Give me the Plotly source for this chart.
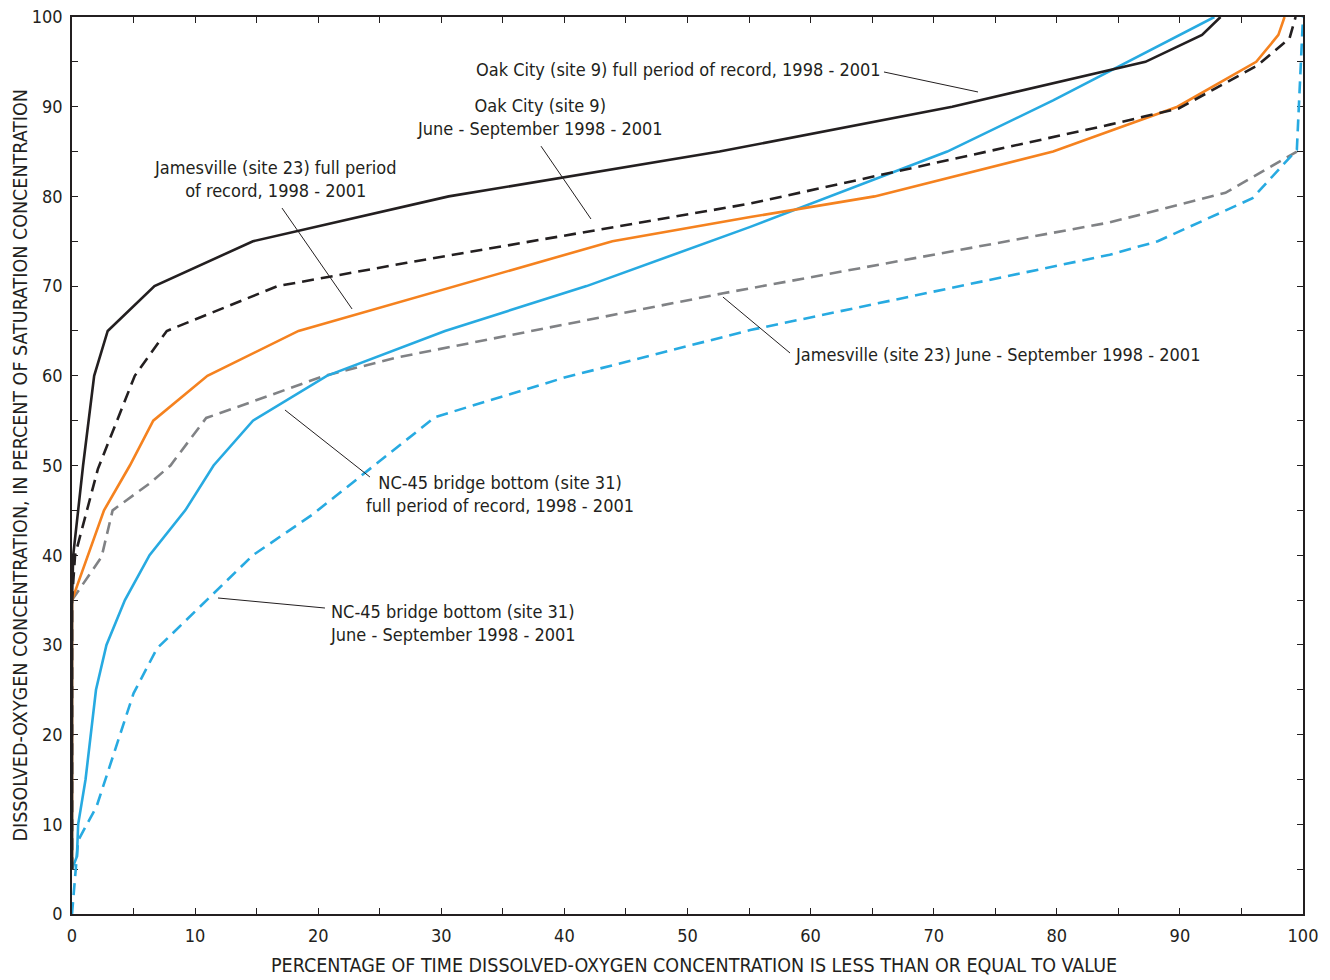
import plotly.graph_objects as go

# ---- data ----
oak_full_x = [0, 0, 0.1, 0.9, 1.8, 2.9, 6.7, 14.7, 30.6, 52.6, 71.5, 87.2, 91.8, 93.3]
oak_full_y = [5, 35, 40, 50, 60, 65, 70, 75, 80, 85, 90, 95, 98, 100]

oak_jun_x = [0, 0, 0.25, 2.1, 5.1, 7.7, 16.7, 27.2, 55.1, 84.3, 89.9, 96.3, 98.9, 99.4]
oak_jun_y = [5, 35, 40, 49.6, 60, 65, 70, 72.6, 79.2, 88, 89.8, 94.6, 97.6, 100]

jam_full_x = [0, 0, 2.6, 4.7, 6.6, 11, 18.4, 26.6, 43.9, 55.1, 65.2, 79.7, 89.8, 96.2, 98, 98.5]
jam_full_y = [5, 35, 45, 50, 55, 60, 65, 68.2, 75, 77.7, 80, 85, 90, 95, 98, 100]

jam_jun_x = [0, 2.4, 3.3, 6.3, 8, 10.9, 13.4, 20.5, 26.6, 52.9, 84.3, 93.7, 99.5]
jam_jun_y = [35, 39.8, 45, 48, 50, 55.3, 56.5, 60, 62.1, 69.2, 77.1, 80.4, 85]

nc_full_x = [0, 0.4, 0.5, 1.1, 1.95, 2.8, 4.3, 6.3, 9.2, 11.5, 14.7, 20.7, 30.3, 41.8, 55.1, 71.1, 79.7, 92.8]
nc_full_y = [5, 6.4, 10, 15, 25, 30, 35, 40, 45, 50, 55, 60, 65, 70, 76.6, 85, 90.7, 100]

nc_jun_x = [0, 0.5, 2, 5, 6.9, 10.7, 14.7, 19.5, 29.5, 40, 55.1, 84.3, 88.2, 95.9, 99.5, 100]
nc_jun_y = [0, 8.2, 12, 24.6, 29.6, 34.7, 40, 44.5, 55.4, 59.8, 65.1, 73.5, 75, 79.8, 85.2, 100]

tick_vals = list(range(0, 101, 5))
tick_text = [str(v) if v % 10 == 0 else "" for v in tick_vals]

# labels: (text, x, y, xanchor, align)
labels = [
    ("Oak City (site 9) full period of record, 1998 - 2001", 32.66, 94.2, "left", "left"),
    ("Oak City (site 9)<br>June - September 1998 - 2001", 38.0, 88.8, "center", "center"),
    ("Jamesville (site 23) full period<br>of record, 1998 - 2001", 16.5, 81.94, "center", "center"),
    ("Jamesville (site 23) June - September 1998 - 2001", 58.57, 62.32, "left", "left"),
    ("NC-45 bridge bottom (site 31)<br>full period of record, 1998 - 2001", 34.77, 46.82, "center", "center"),
    ("NC-45 bridge bottom (site 31)<br>June - September 1998 - 2001", 20.8, 32.44, "left", "left"),
]
# leader lines: (x0, y0, x1, y1)
leaders = [
    (65.96, 93.87, 73.6, 91.64),
    (38.1, 85.6, 42.16, 77.48),
    (17.06, 78.7, 22.75, 67.45),
    (52.88, 68.78, 58.33, 62.54),
    (17.3, 56.19, 24.2, 48.72),
    (11.86, 35.23, 20.55, 34.11),
]

BLACK = "#231f20"
ORANGE = "#f5821f"
BLUE = "#27aae1"
GRAY = "#808285"
DASH = "12px,7px"
FONT = "DejaVu Sans Condensed, Liberation Sans Narrow, Arial Narrow, sans-serif"

series = [
    (jam_jun_x, jam_jun_y, GRAY, DASH),
    (nc_jun_x, nc_jun_y, BLUE, DASH),
    (nc_full_x, nc_full_y, BLUE, "solid"),
    (jam_full_x, jam_full_y, ORANGE, "solid"),
    (oak_jun_x, oak_jun_y, BLACK, DASH),
    (oak_full_x, oak_full_y, BLACK, "solid"),
]

fig = go.Figure()
for xs, ys, col, dash in series:
    fig.add_trace(go.Scatter(x=xs, y=ys, mode="lines", cliponaxis=False,
                             line=dict(color=col, width=2.6, dash=dash),
                             hoverinfo="skip", showlegend=False))

for (t, x, y, xa, al) in labels:
    fig.add_annotation(x=x, y=y, text=t, showarrow=False, xanchor=xa, align=al,
                       yanchor="middle", font=dict(family=FONT, size=18, color=BLACK))
for (x0, y0, x1, y1) in leaders:
    fig.add_shape(type="line", x0=x0, y0=y0, x1=x1, y1=y1,
                  line=dict(color=BLACK, width=1))

fig.add_annotation(xref="paper", yref="paper", x=-0.0422, y=0.5,
                   text="DISSOLVED-OXYGEN CONCENTRATION, IN PERCENT OF SATURATION CONCENTRATION",
                   textangle=-90, showarrow=False, xanchor="center", yanchor="middle",
                   font=dict(family=FONT, size=19.5, color=BLACK))
fig.add_annotation(xref="paper", yref="paper", x=0.505, y=-0.0575,
                   text="PERCENTAGE OF TIME DISSOLVED-OXYGEN CONCENTRATION IS LESS THAN OR EQUAL TO VALUE",
                   showarrow=False, xanchor="center", yanchor="middle",
                   font=dict(family=FONT, size=19.5, color=BLACK))

axis_common = dict(tickmode="array", tickvals=tick_vals, ticktext=tick_text,
                   ticks="inside", ticklen=6, tickwidth=1.2, tickcolor=BLACK,
                   showline=True, linecolor=BLACK, linewidth=1.5, mirror="ticks",
                   showgrid=False, zeroline=False, layer="below traces", automargin=False,
                   tickfont=dict(family=FONT, size=18, color=BLACK))

fig.update_xaxes(range=[0, 100], ticklabelstandoff=5, **axis_common)
fig.update_yaxes(range=[0, 100], ticklabelstandoff=4, **axis_common)

fig.update_layout(width=1330, height=980, plot_bgcolor="white", paper_bgcolor="white",
                  margin=dict(l=72, r=27, t=17, b=66), showlegend=False)

fig.write_html("out.html", config={"displayModeBar": False},
               post_script="document.body.style.margin='0';document.body.style.overflow='hidden';")
